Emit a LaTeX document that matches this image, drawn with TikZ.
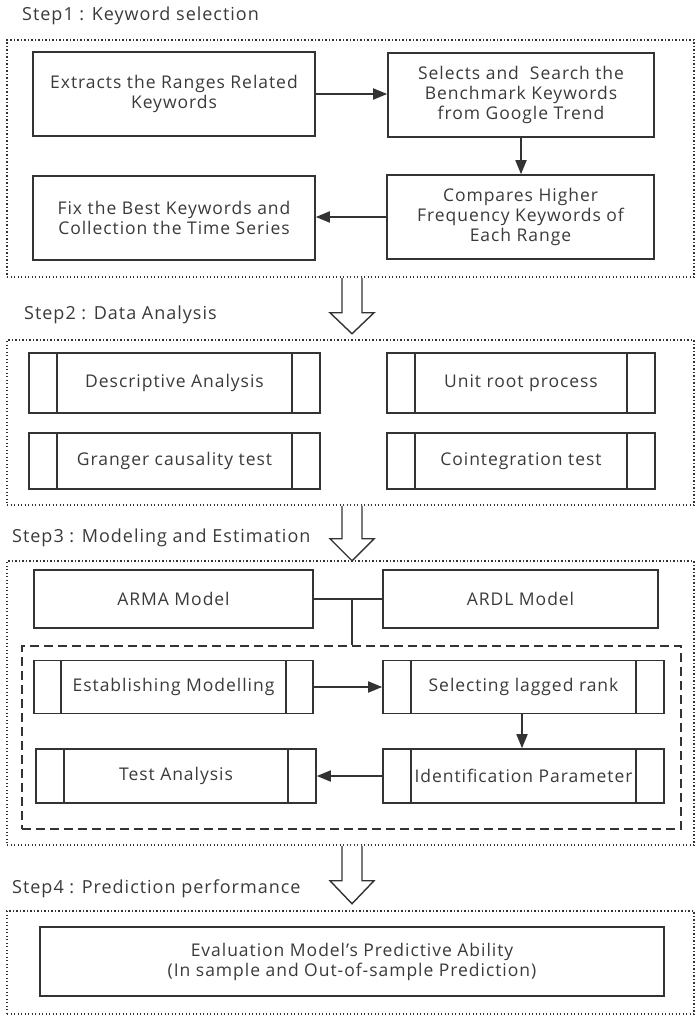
\documentclass[tikz,border=0pt]{standalone}
\usepackage{fontspec}
\setmainfont{Open Sans}[LetterSpace=5.5]
\usetikzlibrary{arrows.meta,calc}
\definecolor{ink}{HTML}{333333}
\definecolor{txt}{HTML}{3A3A3A}
\tikzset{
  box/.style={draw=ink, line width=1.6pt, text=txt, align=center, inner sep=2pt, font=\fontsize{17.5}{20}\selectfont},
  procbox/.style={box, path picture={
      \draw[ink, line width=1.6pt] ([xshift=#1]path picture bounding box.north west) -- ([xshift=#1]path picture bounding box.south west);
      \draw[ink, line width=1.6pt] ([xshift=-#1]path picture bounding box.north east) -- ([xshift=-#1]path picture bounding box.south east);}},
  procbox/.default=28pt,
  dotbox/.style={draw=ink, line width=1.5pt, dash pattern=on 1.4pt off 2.1pt, inner sep=0pt},
  dashbox/.style={draw=ink, line width=1.8pt, dash pattern=on 9pt off 5pt, inner sep=0pt},
  title/.style={anchor=west, inner sep=0pt, text=txt, font=\fontsize{18}{21}\selectfont},
  flow/.style={draw=ink, line width=1.8pt, -{Triangle[length=14pt,width=11pt]}},
  link/.style={draw=ink, line width=1.6pt},
  hollow/.style={draw=ink, line width=1.4pt, fill=white, line join=miter}
}
\begin{document}
\begin{tikzpicture}[x=1pt,y=-1pt]
\useasboundingbox (0,0) rectangle (700,1017);

% ---- Step 1
\node[title] (t1) at (22,16) {Step1 : Keyword selection};
\node[dotbox, minimum width=687pt, minimum height=237pt] (g1) at (350.5,158.5) {};
\node[box, minimum width=282pt, minimum height=84pt] (a) at (174,94) {Extracts the Ranges Related\\Keywords};
\node[box, minimum width=266pt, minimum height=84pt] (b) at (521,95) {Selects and\ \ Search the\\Benchmark Keywords\\from Google Trend};
\node[box, minimum width=267pt, minimum height=84pt] (c) at (520.5,217) {Compares Higher\\Frequency Keywords of\\Each Range};
\node[box, minimum width=282pt, minimum height=84pt] (d) at (174,218) {Fix the Best Keywords and\\Collection the Time Series};
\draw[flow] (a.east) -- (a.east -| b.west);
\draw[flow] (b.south) -- (b.south |- c.north);
\draw[flow] (c.west) -- (c.west -| d.east);

% ---- Step 2
\node[title] (t2) at (24,315) {Step2 : Data Analysis};
\node[dotbox, minimum width=687pt, minimum height=165pt] (g2) at (350.5,422.5) {};
\node[procbox, minimum width=291pt, minimum height=60pt] (p1) at (174.5,383) {Descriptive Analysis};
\node[procbox, minimum width=268pt, minimum height=60pt] (p2) at (521,383) {Unit root process};
\node[procbox, minimum width=291pt, minimum height=56pt] (p3) at (174.5,461) {Granger causality test};
\node[procbox, minimum width=268pt, minimum height=56pt] (p4) at (521,461) {Cointegration test};

% ---- Step 3
\node[title] (t3) at (12,538) {Step3 : Modeling and Estimation};
\node[dotbox, minimum width=687pt, minimum height=284pt] (g3) at (350.5,703) {};
\node[box, minimum width=279pt, minimum height=58pt] (arma) at (173.5,599) {ARMA Model};
\node[box, minimum width=275pt, minimum height=58pt] (ardl) at (520.5,599) {ARDL Model};
\node[dashbox, minimum width=659pt, minimum height=183pt] (inner) at (351.5,737.5) {};
\coordinate (j) at (352,599);
\draw[link] (arma.east) -- (ardl.west);
\draw[link] (j) -- (j |- inner.north);
\node[procbox=27pt, minimum width=279pt, minimum height=53pt] (e1) at (173.5,687) {Establishing Modelling};
\node[procbox=28pt, minimum width=281pt, minimum height=53pt] (e2) at (523.5,687) {Selecting lagged rank};
\node[procbox=28pt, minimum width=281pt, minimum height=54pt] (e3) at (523.5,776) {Identification Parameter};
\node[procbox=28pt, minimum width=280pt, minimum height=54pt] (e4) at (176,776) {Test Analysis};
\draw[flow] (e1.east) -- (e1.east -| e2.west);
\draw[flow] ([xshift=-1.5pt]e2.south) -- ([xshift=-1.5pt]e3.north);
\draw[flow] (e3.west) -- (e3.west -| e4.east);

% ---- Step 4
\node[title] (t4) at (12,889) {Step4 : Prediction performance};
\node[dotbox, minimum width=687pt, minimum height=103pt] (g4) at (350.5,962.5) {};
\node[box, minimum width=624pt, minimum height=69pt] (ev) at (352,961.5) {Evaluation Model's Predictive Ability\\(In sample and Out-of-sample Prediction)};

% ---- hollow arrows between steps
\draw[hollow] ([xshift=-8.5pt]g1.south) -- ++(0,35) -- ++(-12,0) -- ++(22,21) -- ++(22,-21) -- ++(-12,0) -- ++(0,-35);
\draw[hollow] ([xshift=-8.5pt]g2.south) -- ++(0,33) -- ++(-12,0) -- ++(22,22) -- ++(22,-22) -- ++(-12,0) -- ++(0,-33);
\draw[hollow] ([xshift=-8.5pt]g3.south) -- ++(0,35) -- ++(-12,0) -- ++(22,23) -- ++(22,-23) -- ++(-12,0) -- ++(0,-35);
\end{tikzpicture}
\end{document}
